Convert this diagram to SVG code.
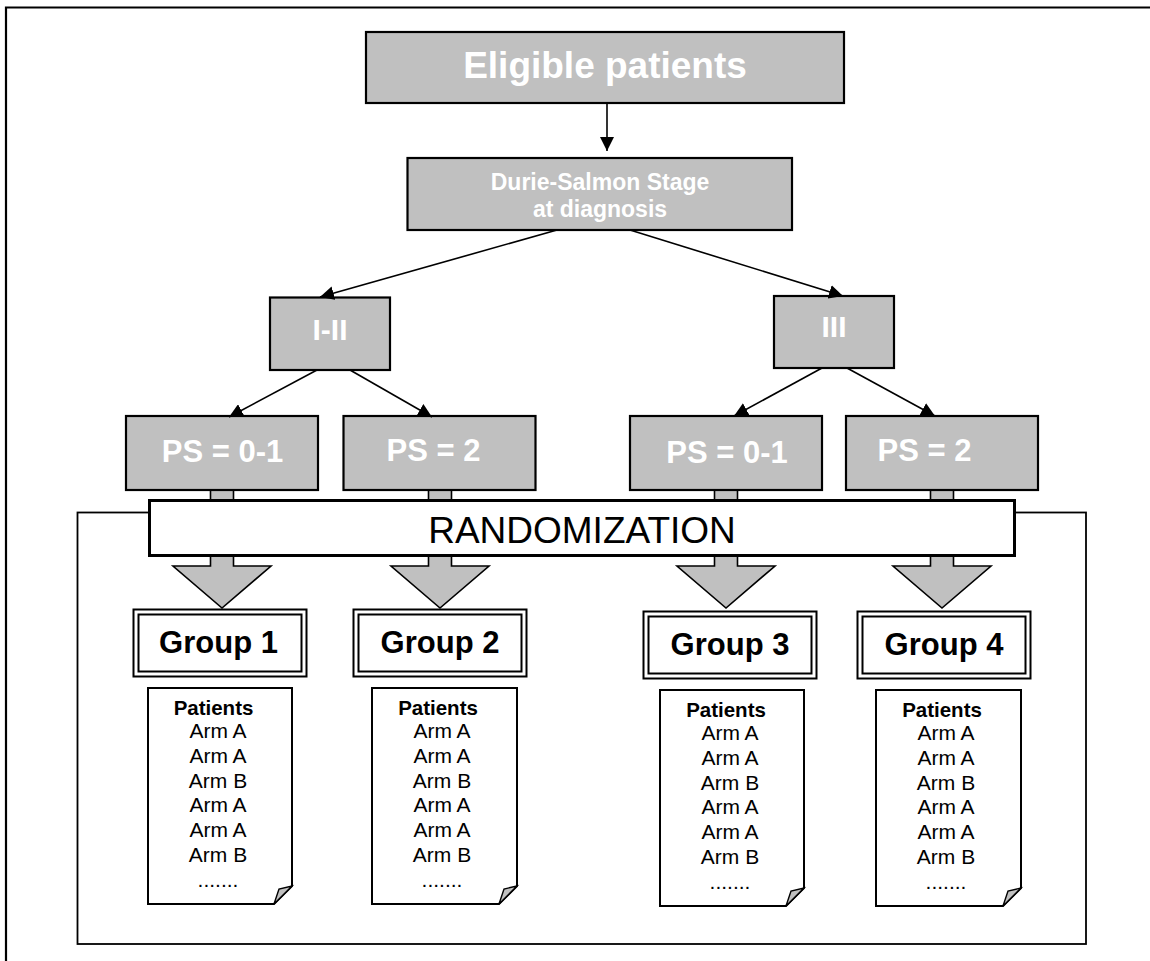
<svg xmlns="http://www.w3.org/2000/svg" width="1150" height="961" viewBox="0 0 1150 961">
<style>
  .gbox { fill: #c0c0c0; stroke: #000; stroke-width: 2.2; }
  .wt { font-family: "Liberation Sans", Arial, sans-serif; font-weight: bold; fill: #fff; text-anchor: middle; }
  .bt { font-family: "Liberation Sans", Arial, sans-serif; font-weight: bold; fill: #000; text-anchor: middle; }
  .nt { font-family: "Liberation Sans", Arial, sans-serif; fill: #000; text-anchor: middle; }
  .conn { stroke: #000; stroke-width: 1.6; fill: none; marker-end: url(#ah); }
  .blk { fill: #c0c0c0; stroke: #000; stroke-width: 1.6; stroke-linejoin: miter; }
  .doc { fill: #fff; stroke: #000; stroke-width: 2; }
  .fold { fill: #c0c0c0; stroke: #000; stroke-width: 1.4; }
  .frame { fill: none; stroke: #000; }
</style>
<defs>
  <marker id="ah" viewBox="0 0 14 14" refX="14" refY="7" markerWidth="14" markerHeight="14" markerUnits="userSpaceOnUse" orient="auto">
    <path d="M0,0 L14,7 L0,14 Z" fill="#000"/>
  </marker>
</defs>
<rect width="1150" height="961" fill="#fff"/>
<path class="frame" d="M6,961 V7.5 H1150" stroke-width="2.2"/>
<rect class="frame" x="77.5" y="512.5" width="1008.5" height="431.5" stroke-width="1.8"/>

<g id="block-arrows">
  <path class="blk" d="M210.5,485 H233.5 V566 H271 L222,608 L173,566 H210.5 Z"/>
  <path class="blk" d="M428.5,485 H451.5 V566 H489 L440,608 L391,566 H428.5 Z"/>
  <path class="blk" d="M714.5,485 H737.5 V566 H775 L726,608 L677,566 H714.5 Z"/>
  <path class="blk" d="M930.5,485 H953.5 V566 H991 L942,608 L893,566 H930.5 Z"/>
</g>

<g id="eligible">
  <rect class="gbox" x="366" y="32" width="478" height="71" stroke-width="2.4"/>
  <text class="wt" x="605" y="78" font-size="37">Eligible patients</text>
</g>
<g id="durie">
  <rect class="gbox" x="407.5" y="158" width="384.5" height="72"/>
  <text class="wt" x="600" y="190" font-size="23">Durie-Salmon Stage</text>
  <text class="wt" x="600" y="217" font-size="23">at diagnosis</text>
</g>
<g id="stage-I-II">
  <rect class="gbox" x="270" y="297.5" width="120" height="72.5"/>
  <text class="wt" x="330" y="340" font-size="30">I-II</text>
</g>
<g id="stage-III">
  <rect class="gbox" x="774" y="296" width="120" height="72"/>
  <text class="wt" x="834" y="337" font-size="30">III</text>
</g>
<g id="ps01-left">
  <rect class="gbox" x="126" y="416" width="192" height="74"/>
  <text class="wt" x="222.5" y="462" font-size="31">PS = 0-1</text>
</g>
<g id="ps2-left">
  <rect class="gbox" x="343.5" y="416" width="192" height="74"/>
  <text class="wt" x="433.5" y="461" font-size="31">PS = 2</text>
</g>
<g id="ps01-right">
  <rect class="gbox" x="630" y="416" width="192" height="74"/>
  <text class="wt" x="727" y="463" font-size="31">PS = 0-1</text>
</g>
<g id="ps2-right">
  <rect class="gbox" x="846" y="416" width="192" height="74"/>
  <text class="wt" x="924.5" y="461" font-size="31">PS = 2</text>
</g>

<g id="randomization">
  <rect x="149.5" y="500.5" width="865" height="55" fill="#fff" stroke="#000" stroke-width="3"/>
  <text class="nt" x="582" y="543" font-size="37">RANDOMIZATION</text>
</g>

<g id="group1">
  <rect x="133.5" y="609.5" width="173" height="67" fill="#fff" stroke="#000" stroke-width="2"/>
  <rect x="138.5" y="614.5" width="163" height="57" fill="none" stroke="#000" stroke-width="2"/>
  <text class="bt" x="218.5" y="653" font-size="31">Group 1</text>
</g>
<g id="group2">
  <rect x="353.5" y="609.5" width="173" height="67" fill="#fff" stroke="#000" stroke-width="2"/>
  <rect x="358.5" y="614.5" width="163" height="57" fill="none" stroke="#000" stroke-width="2"/>
  <text class="bt" x="440" y="653" font-size="31">Group 2</text>
</g>
<g id="group3">
  <rect x="643.5" y="611.5" width="173" height="67" fill="#fff" stroke="#000" stroke-width="2"/>
  <rect x="648.5" y="616.5" width="163" height="57" fill="none" stroke="#000" stroke-width="2"/>
  <text class="bt" x="730" y="655" font-size="31">Group 3</text>
</g>
<g id="group4">
  <rect x="857.5" y="611.5" width="173" height="67" fill="#fff" stroke="#000" stroke-width="2"/>
  <rect x="862.5" y="616.5" width="163" height="57" fill="none" stroke="#000" stroke-width="2"/>
  <text class="bt" x="944" y="655" font-size="31">Group 4</text>
</g>

<g id="doc1">
  <path class="doc" d="M148,688 H292 V886 L274,904 H148 Z"/>
  <path class="fold" d="M274,904 L279,889 L292,886 Z"/>
  <text class="bt" x="213.5" y="715" font-size="20.5">Patients</text>
  <text class="nt" font-size="21"><tspan x="218" y="738">Arm A</tspan><tspan x="218" y="763">Arm A</tspan><tspan x="218" y="788">Arm B</tspan><tspan x="218" y="812">Arm A</tspan><tspan x="218" y="837">Arm A</tspan><tspan x="218" y="862">Arm B</tspan><tspan x="218" y="887">.......</tspan></text>
</g>
<g id="doc2">
  <path class="doc" d="M372,688 H517 V886 L499,904 H372 Z"/>
  <path class="fold" d="M499,904 L504,889 L517,886 Z"/>
  <text class="bt" x="438" y="715" font-size="20.5">Patients</text>
  <text class="nt" font-size="21"><tspan x="442" y="738">Arm A</tspan><tspan x="442" y="763">Arm A</tspan><tspan x="442" y="788">Arm B</tspan><tspan x="442" y="812">Arm A</tspan><tspan x="442" y="837">Arm A</tspan><tspan x="442" y="862">Arm B</tspan><tspan x="442" y="887">.......</tspan></text>
</g>
<g id="doc3">
  <path class="doc" d="M660,690 H804 V888 L786,906 H660 Z"/>
  <path class="fold" d="M786,906 L791,891 L804,888 Z"/>
  <text class="bt" x="726" y="717" font-size="20.5">Patients</text>
  <text class="nt" font-size="21"><tspan x="730" y="740">Arm A</tspan><tspan x="730" y="765">Arm A</tspan><tspan x="730" y="790">Arm B</tspan><tspan x="730" y="814">Arm A</tspan><tspan x="730" y="839">Arm A</tspan><tspan x="730" y="864">Arm B</tspan><tspan x="730" y="889">.......</tspan></text>
</g>
<g id="doc4">
  <path class="doc" d="M876,690 H1021 V888 L1003,906 H876 Z"/>
  <path class="fold" d="M1003,906 L1008,891 L1021,888 Z"/>
  <text class="bt" x="942" y="717" font-size="20.5">Patients</text>
  <text class="nt" font-size="21"><tspan x="946" y="740">Arm A</tspan><tspan x="946" y="765">Arm A</tspan><tspan x="946" y="790">Arm B</tspan><tspan x="946" y="814">Arm A</tspan><tspan x="946" y="839">Arm A</tspan><tspan x="946" y="864">Arm B</tspan><tspan x="946" y="889">.......</tspan></text>
</g>

<g id="connectors">
  <line class="conn" x1="607" y1="103" x2="607" y2="151"/>
  <line class="conn" x1="557" y1="230" x2="320" y2="297"/>
  <line class="conn" x1="630" y1="230" x2="843" y2="296"/>
  <line class="conn" x1="317" y1="370" x2="229" y2="417"/>
  <line class="conn" x1="350" y1="370" x2="432" y2="417"/>
  <line class="conn" x1="822" y1="368" x2="734" y2="416"/>
  <line class="conn" x1="847" y1="368" x2="935" y2="416"/>
</g>
</svg>
